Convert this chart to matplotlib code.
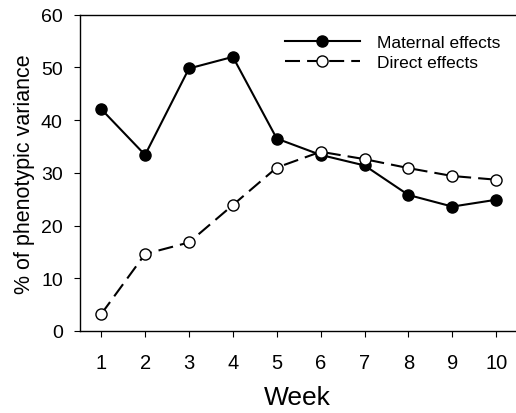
import matplotlib
matplotlib.use('Agg')
import matplotlib.pyplot as plt

plt.rcParams['font.family'] = ['Liberation Sans', 'DejaVu Sans']

# dati
weeks = [1, 2, 3, 4, 5, 6, 7, 8, 9, 10]
maternal = [42.1, 33.4, 49.8, 52.0, 36.5, 33.4, 31.4, 25.8, 23.6, 24.9]
direct = [3.2, 14.6, 16.8, 23.9, 31.0, 34.0, 32.6, 30.9, 29.4, 28.7]

fig = plt.figure(figsize=(5.16, 4.14), dpi=100)
ax = fig.add_axes([79.5/516, 1-332/414, 1-79.5/516, (332-15.7)/414])

ax.plot(weeks, maternal, color='black', lw=1.5, marker='o', markersize=8,
        markerfacecolor='black', markeredgecolor='black', label='Maternal effects', zorder=3)
ax.plot(weeks, direct, color='black', lw=1.5, dashes=(7.2, 3.4), marker='o', markersize=8,
        markerfacecolor='white', markeredgecolor='black', markeredgewidth=1.0,
        label='Direct effects', zorder=4)

ax.set_xlim(0.506, 10.45)
ax.set_ylim(0, 60)
ax.set_xticks(weeks)
ax.set_yticks(range(0, 61, 10))
ax.spines['right'].set_visible(False)
for s in ['left', 'bottom', 'top']:
    ax.spines[s].set_linewidth(1.0)
ax.tick_params(axis='x', direction='out', length=4, width=0.8, pad=12, labelsize=14.5)
ax.tick_params(axis='y', direction='out', length=4, width=0.8, pad=8, labelsize=14)

ax.set_xlabel('Week', fontsize=19, labelpad=9)
ax.set_ylabel('% of phenotypic variance', fontsize=15.5, labelpad=4)

ax.legend(loc='upper left', bbox_to_anchor=(0.471, 0.935), frameon=False, fontsize=12.5,
          handlelength=4.3, handletextpad=1.0, borderpad=0, borderaxespad=0, labelspacing=0.25)

fig.savefig('out.png', dpi=100)
